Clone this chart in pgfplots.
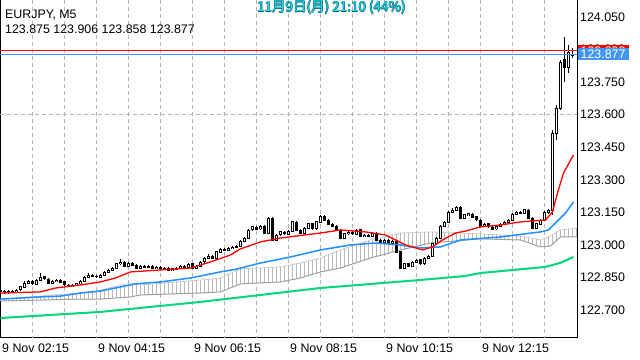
\documentclass[border=0pt]{standalone}
\usepackage{fontspec}
\setmainfont{Liberation Sans}
\newfontfamily\cjk{Noto Sans CJK JP}
\usepackage{pgfplots}
\usepackage{pgfplotstable}
\pgfplotsset{compat=1.18}
\usetikzlibrary{patterns.meta}
\definecolor{mtblue}{RGB}{30,144,255}
\definecolor{mtgreen}{RGB}{0,215,120}
\definecolor{bidblue}{RGB}{66,150,243}
\definecolor{cloudgray}{RGB}{160,160,160}
\definecolor{hatchgray}{RGB}{185,185,185}
\definecolor{gridgray}{RGB}{180,180,180}
\definecolor{tsfill}{RGB}{0,235,245}
\definecolor{tsline}{RGB}{20,80,95}
\newcommand{\mtfont}{\fontsize{12.4bp}{14bp}\selectfont}
\begin{document}
\pgfplotstableread{
i O H L C
0 122.791 122.796 122.781 122.788
1 122.788 122.793 122.778 122.784
2 122.784 122.792 122.775 122.788
3 122.788 122.795 122.779 122.784
4 122.784 122.798 122.781 122.793
5 122.793 122.812 122.790 122.807
6 122.807 122.834 122.803 122.825
7 122.825 122.841 122.821 122.834
8 122.834 122.838 122.816 122.821
9 122.821 122.846 122.817 122.839
10 122.839 122.870 122.835 122.853
11 122.853 122.858 122.840 122.844
12 122.844 122.849 122.820 122.825
13 122.825 122.840 122.821 122.834
14 122.834 122.846 122.829 122.839
15 122.839 122.844 122.825 122.830
16 122.830 122.834 122.811 122.816
17 122.816 122.820 122.806 122.811
18 122.811 122.822 122.807 122.816
19 122.816 122.826 122.812 122.821
20 122.821 122.839 122.818 122.834
21 122.834 122.858 122.830 122.853
22 122.853 122.871 122.849 122.862
23 122.862 122.866 122.852 122.857
24 122.857 122.862 122.848 122.853
25 122.853 122.868 122.849 122.862
26 122.862 122.880 122.858 122.876
27 122.876 122.890 122.872 122.885
28 122.885 122.899 122.881 122.894
29 122.894 122.918 122.890 122.913
30 122.913 122.935 122.909 122.922
31 122.922 122.926 122.898 122.903
32 122.903 122.922 122.899 122.917
33 122.917 122.921 122.903 122.908
34 122.908 122.912 122.889 122.894
35 122.894 122.908 122.890 122.903
36 122.903 122.908 122.894 122.899
37 122.899 122.909 122.895 122.903
38 122.903 122.907 122.889 122.894
39 122.894 122.904 122.890 122.899
40 122.899 122.903 122.885 122.890
41 122.890 122.899 122.886 122.894
42 122.894 122.898 122.881 122.885
43 122.885 122.895 122.880 122.890
44 122.890 122.900 122.886 122.894
45 122.894 122.908 122.890 122.903
46 122.903 122.907 122.894 122.899
47 122.899 122.917 122.895 122.913
48 122.913 122.916 122.889 122.894
49 122.894 122.909 122.890 122.903
50 122.903 122.927 122.899 122.922
51 122.922 122.945 122.918 122.940
52 122.940 122.958 122.936 122.949
53 122.949 122.954 122.935 122.940
54 122.940 122.973 122.936 122.968
55 122.968 122.986 122.964 122.982
56 122.982 122.987 122.972 122.977
57 122.977 122.991 122.973 122.986
58 122.986 122.996 122.982 122.991
59 122.991 123.001 122.986 122.995
60 122.995 123.023 122.991 123.018
61 123.018 123.037 123.014 123.032
62 123.032 123.075 123.028 123.069
63 123.069 123.090 123.064 123.083
64 123.083 123.088 123.069 123.074
65 123.074 123.093 123.070 123.087
66 123.087 123.091 123.050 123.055
67 123.055 123.129 123.051 123.124
68 123.124 123.128 123.018 123.023
69 123.023 123.051 123.019 123.046
70 123.046 123.066 123.042 123.060
71 123.060 123.065 123.046 123.051
72 123.051 123.070 123.047 123.064
73 123.064 123.112 123.060 123.106
74 123.106 123.110 123.064 123.069
75 123.069 123.073 123.050 123.055
76 123.055 123.084 123.051 123.078
77 123.078 123.102 123.074 123.097
78 123.097 123.101 123.069 123.074
79 123.074 123.111 123.070 123.106
80 123.106 123.140 123.102 123.133
81 123.133 123.137 123.110 123.115
82 123.115 123.119 123.092 123.097
83 123.097 123.101 123.082 123.087
84 123.087 123.091 123.064 123.069
85 123.069 123.073 123.027 123.032
86 123.032 123.056 123.028 123.051
87 123.051 123.066 123.047 123.060
88 123.060 123.064 123.046 123.051
89 123.051 123.075 123.047 123.069
90 123.069 123.073 123.036 123.041
91 123.041 123.051 123.037 123.046
92 123.046 123.050 123.036 123.041
93 123.041 123.060 123.037 123.055
94 123.055 123.059 123.018 123.023
95 123.023 123.027 123.009 123.014
96 123.014 123.028 123.010 123.023
97 123.023 123.027 123.004 123.009
98 123.009 123.023 123.005 123.018
99 123.018 123.022 122.963 122.968
100 122.968 122.972 122.889 122.894
101 122.894 122.918 122.890 122.913
102 122.913 122.917 122.898 122.903
103 122.903 122.927 122.899 122.922
104 122.922 122.936 122.917 122.931
105 122.931 122.935 122.908 122.913
106 122.913 122.945 122.909 122.940
107 122.940 122.955 122.936 122.949
108 122.949 123.010 122.945 123.005
109 123.005 123.037 123.001 123.032
110 123.032 123.092 123.028 123.087
111 123.087 123.112 123.083 123.106
112 123.106 123.158 123.102 123.152
113 123.152 123.170 123.148 123.161
114 123.161 123.180 123.156 123.175
115 123.175 123.179 123.119 123.124
116 123.124 123.144 123.120 123.138
117 123.138 123.148 123.134 123.143
118 123.143 123.147 123.124 123.129
119 123.129 123.133 123.110 123.115
120 123.115 123.119 123.082 123.087
121 123.087 123.102 123.083 123.097
122 123.097 123.101 123.078 123.083
123 123.083 123.087 123.069 123.074
124 123.074 123.092 123.070 123.087
125 123.087 123.102 123.083 123.097
126 123.097 123.111 123.093 123.106
127 123.106 123.120 123.102 123.115
128 123.115 123.149 123.111 123.143
129 123.143 123.158 123.139 123.152
130 123.152 123.156 123.142 123.147
131 123.147 123.166 123.143 123.161
132 123.161 123.165 123.119 123.124
133 123.124 123.128 123.073 123.078
134 123.078 123.102 123.074 123.097
135 123.097 123.120 123.093 123.115
136 123.115 123.158 123.111 123.152
137 123.152 123.167 123.143 123.161
138 123.161 123.529 123.138 123.515
139 123.515 123.644 123.483 123.630
140 123.630 123.851 123.621 123.842
141 123.851 123.957 123.750 123.815
142 123.815 123.920 123.792 123.888
143 123.875 123.906 123.858 123.877
}\candles
\begin{tikzpicture}
\useasboundingbox (0,0) rectangle (640bp,360bp);
\fill[white] (0,0) rectangle (640bp,360bp);
\begin{axis}[
  at={(0bp,22bp)}, anchor=south west,
  scale only axis, width=577bp, height=338bp,
  xmin=-0.125, xmax=144.125, ymin=122.572, ymax=124.127,
  axis line style={black, line width=1bp},
  xtick={0,8,...,136},
  xticklabels={9 Nov 02:15,{},{},9 Nov 04:15,{},{},9 Nov 06:15,{},{},9 Nov 08:15,{},{},9 Nov 10:15,{},{},9 Nov 12:15,{},{}},
  major tick length=0pt,
  xticklabel style={anchor=north west, inner sep=0pt, xshift=1.5bp, yshift=-6bp},
  ytick={122.7,122.85,123,123.15,123.3,123.45,123.6,123.75,123.9,124.05},
  ytick pos=right, yticklabel pos=right,
  yticklabel style={anchor=west, inner sep=0pt, xshift=3bp,
    /pgf/number format/.cd, fixed, fixed zerofill, precision=3, 1000 sep={}, assume math mode=true},
  tick label style={font=\mtfont},
]
% vertical grid lines (every 40 minutes)
\pgfplotsinvokeforeach{8,16,...,136}{
  \addplot[gridgray, line width=1bp, dash pattern=on 4bp off 3bp, forget plot] coordinates {(#1,124.127) (#1,122.572)};
}
% horizontal grid level
\addplot[gridgray, line width=1bp, dash pattern=on 4bp off 3bp, forget plot] coordinates {(-0.125,123.6) (144.125,123.6)};
% Ichimoku cloud (hatched area between the two spans)
\addplot[draw=none, pattern={Lines[angle=90,distance=4bp,line width=0.6bp]}, pattern color=hatchgray, forget plot] coordinates {
(0,122.751) (20,122.779) (25,122.793) (32.5,122.825) (35,122.816) (50,122.839) (55,122.848) (60,122.890) (70,122.899) (75,122.917) (80,122.940) (85,122.977) (92.5,123.023) (100,123.055) (107.5,123.060) (120,123.051) (130,123.041) (135,123.023) (137.5,123.041) (140,123.069) (144.25,123.078)
(144.25,123.037) (140,123.037) (137.5,122.995) (135,122.991) (130,123.023) (120,123.028) (107.5,123.009) (100,122.977) (92.5,122.940) (85,122.894) (80,122.876) (75,122.848) (70,122.830) (60,122.821) (55,122.784) (50,122.779) (35,122.770) (32.5,122.761) (25,122.751) (20,122.751) (0,122.742)} -- cycle;
\addplot[hatchgray, line width=0.8bp, dash pattern=on 2bp off 1bp, forget plot] coordinates {
(0,122.751) (20,122.779) (25,122.793) (32.5,122.825) (35,122.816) (50,122.839) (55,122.848) (60,122.890) (70,122.899) (75,122.917) (80,122.940) (85,122.977) (92.5,123.023) (100,123.055) (107.5,123.060) (120,123.051) (130,123.041) (135,123.023) (137.5,123.041) (140,123.069) (144.25,123.078)};
\addplot[cloudgray, line width=1bp, forget plot] coordinates {
(0,122.742) (20,122.751) (25,122.751) (32.5,122.761) (35,122.770) (50,122.779) (55,122.784) (60,122.821) (70,122.830) (75,122.848) (80,122.876) (85,122.894) (92.5,122.940) (100,122.977) (107.5,123.009) (120,123.028) (130,123.023) (135,122.991) (137.5,122.995) (140,123.037) (144.25,123.037)};
% Wicks
\addplot[draw=none, mark=none, forget plot,
  error bars/.cd, y dir=both, y explicit, error mark=none,
  error bar style={draw=black, line width=1bp}]
  table[x=i, y expr={(\thisrow{H}+\thisrow{L})/2}, y error expr={(\thisrow{H}-\thisrow{L})/2}] {\candles};
% Bodies (black outline / bear fill)
\addplot[draw=none, mark=none, forget plot,
  error bars/.cd, y dir=both, y explicit, error mark=none,
  error bar style={draw=black, line width=3bp, line cap=butt}]
  table[x=i, y expr={(\thisrow{O}+\thisrow{C})/2}, y error expr={abs(\thisrow{C}-\thisrow{O})/2+0.0023}] {\candles};
% Bull bodies inner white
\addplot[draw=none, mark=none, forget plot,
  error bars/.cd, y dir=both, y explicit, error mark=none,
  error bar style={draw=white, line width=1bp, line cap=butt}]
  table[x=i, y expr={(\thisrow{O}+\thisrow{C})/2}, y error expr={max((\thisrow{C}-\thisrow{O})/2-0.0023,0)}] {\candles};
% Moving averages
\addplot[mtgreen, line width=2bp] coordinates {
(0,122.664) (25,122.692) (50,122.738) (80,122.802) (105,122.839) (116,122.857) (120,122.871) (136.25,122.899) (140,122.918) (143.25,122.945)};
\addplot[mtblue, line width=1.5bp] coordinates {
(0,122.751) (5,122.756) (10,122.761) (15,122.765) (20,122.779) (25,122.788) (30,122.807) (33.75,122.821) (40,122.830) (47.5,122.848) (55,122.876) (58.75,122.888) (65,122.917) (72.5,122.945) (80,122.977) (87.5,123.000) (93.75,123.009) (100,123.000) (105,122.986) (110,122.991) (115,123.023) (125,123.037) (135,123.060) (137,123.069) (138.75,123.101) (141.25,123.147) (143.25,123.198)};
\addplot[red, line width=1.3bp] coordinates {
(0,122.779) (10,122.784) (13.75,122.802) (20,122.816) (25,122.830) (28.75,122.848) (32.5,122.876) (40,122.885) (47.5,122.894) (52.5,122.922) (57.5,122.954) (60,122.982) (65,123.014) (70,123.032) (80,123.055) (85,123.069) (91.25,123.060) (96.25,123.046) (101.25,123.000) (105.5,122.977) (108,122.991) (110.5,123.023) (113.75,123.055) (116.25,123.064) (120,123.083) (125,123.092) (130,123.106) (136.25,123.115) (138,123.152) (139.25,123.239) (140.75,123.331) (143.25,123.414)};
% Ask / bid lines
\addplot[red, line width=1bp] coordinates {(-0.125,123.893) (144.125,123.893)};
\addplot[bidblue, line width=1bp] coordinates {(-0.125,123.877) (144.125,123.877)};
\end{axis}
\node[fill=red, text=white, anchor=west, inner xsep=3bp, inner ysep=0pt, minimum height=12bp, font=\mtfont] at (577.5bp,309.2bp) {123.893};
\node[fill=bidblue, text=white, anchor=west, inner xsep=3bp, inner ysep=0pt, minimum height=12bp, font=\mtfont] at (577.5bp,305.7bp) {123.877};
\node[anchor=base west, inner sep=0pt, font=\mtfont] at (5bp,341bp) {EURJPY, M5};
\node[anchor=base west, inner sep=0pt, font=\mtfont] at (5bp,326bp) {123.875 123.906 123.858 123.877};
\foreach \dx/\dy in {0.55/0,-0.55/0,0/0.55,0/-0.55} {
  \node[anchor=base west, inner sep=0pt, text=tsline, font=\cjk\fontsize{13.5bp}{15bp}\selectfont] at (257bp+\dx bp,348bp+\dy bp) {11月9日(月) 21:10 (44\%)};
}
\node[anchor=base west, inner sep=0pt, text=tsfill, font=\cjk\fontsize{13.5bp}{15bp}\selectfont] at (257bp,348bp) {11月9日(月) 21:10 (44\%)};
\end{tikzpicture}
\end{document}
